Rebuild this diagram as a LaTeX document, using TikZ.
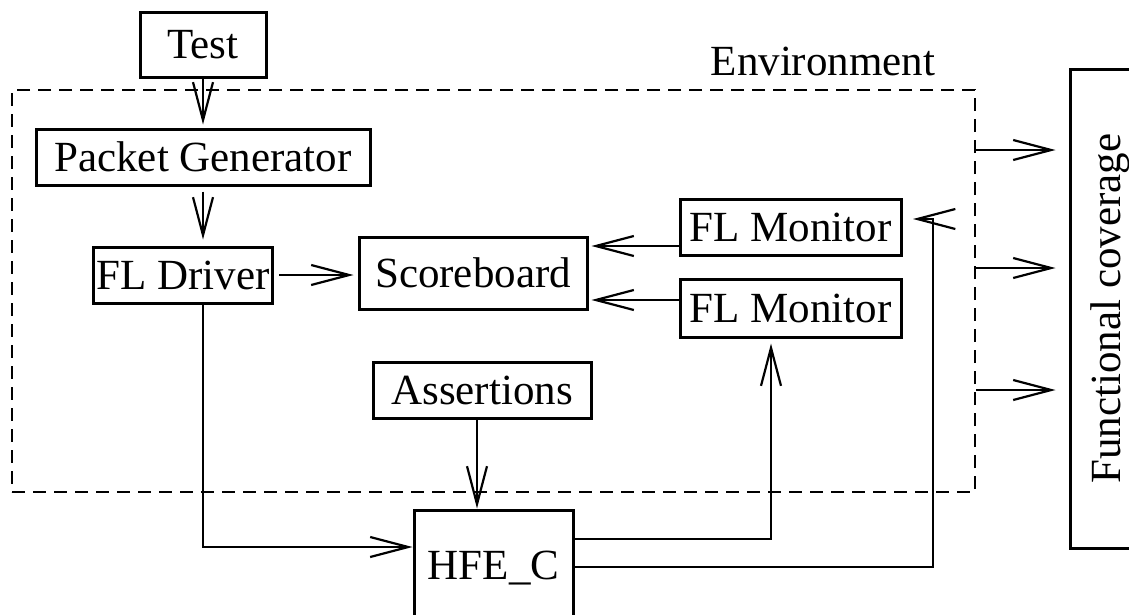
\documentclass[tikz,border=0pt]{standalone}
\usepackage{fontspec}
\setmainfont{Liberation Serif}
\newfontfamily\figfont{Liberation Serif}
\usetikzlibrary{arrows.meta}
\begin{document}
\begin{tikzpicture}[x=1pt,y=-1pt,
  font=\figfont\fontsize{43pt}{50pt}\selectfont,
  box/.style={draw, line width=3pt, rectangle, inner sep=0pt},
  conn/.style={line width=1.6pt,
    -{Straight Barb[length=38pt,width=20pt,line width=2.2pt]}},
  envframe/.style={draw, line width=2pt, dash pattern=on 13pt off 8pt,
    rectangle, inner sep=0pt}]
\useasboundingbox (0,0) rectangle (1129,614);

% environment frame and its label
\node[envframe, minimum width=963pt, minimum height=402pt] (env) at (493.5,291) {};
\node[anchor=base] (envlabel) at (823,75) {Environment};

% blocks
\node[box, minimum width=126pt, minimum height=65pt] (test) at (203,44.5) {Test};
\node[box, minimum width=334pt, minimum height=56pt] (pg) at (203,157) {Packet Generator};
\node[box, minimum width=179pt, minimum height=56pt] (fld) at (183,275) {FL Driver};
\node[box, minimum width=228pt, minimum height=72pt] (sb) at (473,273) {Scoreboard};
\node[box, minimum width=221pt, minimum height=56pt] (flm1) at (790.5,227) {FL Monitor};
\node[box, minimum width=221pt, minimum height=58pt] (flm2) at (790.5,308) {FL Monitor};
\node[box, minimum width=218pt, minimum height=56pt] (as) at (482,390) {Assertions};
\node[box, minimum width=159pt, minimum height=116pt] (hfe) at (493.5,568) {HFE\_C};
\node[box, rotate=90, minimum width=479pt, minimum height=80pt] (fc) at (1110,308.5) {Functional coverage};

% stimulus path
\draw[conn, shorten >=3pt] (test.south) -- (test.south |- pg.north);
\draw[conn, shorten <=5pt, shorten >=6pt] (pg.south) -- (pg.south |- fld.north);
\draw[conn, shorten <=5pt, shorten >=4pt] (fld.east) -- (sb.west |- fld.east);
\draw[conn] ([xshift=20pt]fld.south) |- (hfe.west |- 0,547);

% monitors to scoreboard
\draw[conn, shorten >=3pt] (flm1.west |- 0,246) -- (sb.east |- 0,246);
\draw[conn, shorten >=3pt] (flm2.west |- 0,300) -- (sb.east |- 0,300);

% assertions into the design
\draw[conn] (as.south -| 477,0) -- (hfe.north -| 477,0);

% design outputs back to the monitors
\draw[conn, shorten >=5pt] (hfe.east |- 0,539) -| (flm2.south -| 771,0);
\coordinate (mtip) at (913,219);
\draw[conn] (hfe.east |- 0,567) -| (933,219) -- (mtip);

% coverage outputs
\foreach \yy in {150,268,390}
  \draw[conn, shorten >=13pt] (env.east |- 0,\yy) -- (fc.north |- 0,\yy);
\end{tikzpicture}
\end{document}
